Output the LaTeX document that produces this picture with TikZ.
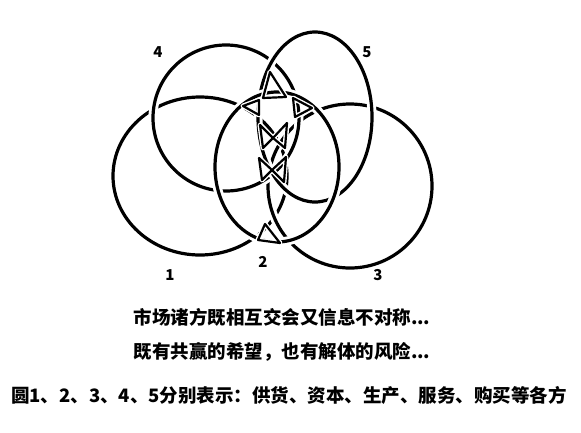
\documentclass[tikz,border=0pt]{standalone}
\usepackage{fontspec}
\newfontfamily\cjk{Noto Sans CJK SC}
\begin{document}
\begin{tikzpicture}[x=1pt,y=-1pt,
  halo/.style={white,line width=9pt},
  ring/.style={black,line width=3.2pt},
  bithalo/.style={white,line width=5pt,line join=round},
  bit/.style={black,line width=2.2pt,line join=round},
  num/.style={font=\cjk\bfseries\fontsize{15}{16}\selectfont},
  cap1/.style={font=\cjk\bfseries\fontsize{18.5}{20}\selectfont}]
\useasboundingbox (0,0) rectangle (581,432);
% ellipse centres
\coordinate (c1) at (200,176);
\coordinate (c3) at (350,186);
\coordinate (c4) at (226,118);
\coordinate (c5) at (315,117);
\coordinate (c2) at (277,167);
% rings, knot style
\draw[halo] (c1) ellipse [x radius=87pt, y radius=79pt];
\draw[ring] (c1) ellipse [x radius=87pt, y radius=79pt];
\draw[halo] (c3) ellipse [x radius=82pt, y radius=82pt];
\draw[ring] (c3) ellipse [x radius=82pt, y radius=82pt];
\draw[halo] (c4) ellipse [x radius=73pt, y radius=73pt];
\draw[ring] (c4) ellipse [x radius=73pt, y radius=73pt];
\draw[halo] (c5) ellipse [x radius=57pt, y radius=85pt];
\draw[ring] (c5) ellipse [x radius=57pt, y radius=85pt];
\draw[halo] (c2) ellipse [x radius=62pt, y radius=75pt];
\draw[ring] (c2) ellipse [x radius=62pt, y radius=75pt];
% small inner shapes
\foreach \st in {bithalo,bit}{
  \draw[\st] (270,72) -- (263,98) -- (286,97) -- cycle;
  \draw[\st] (243,106) -- (259,100) -- (259,115) -- cycle;
  \draw[\st] (293,98) -- (312,108) -- (295,117) -- cycle;
  \draw[\st] (260,125) -- (263,148) -- (273,138) -- (285,148) -- (287,123) -- (273,138) -- cycle;
  \draw[\st] (259,158) -- (262,180) -- (272,170) -- (284,182) -- (286,157) -- (272,170) -- cycle;
  \draw[\st] (265,224) -- (258,240) -- (280,243) -- cycle;
}
% labels
\node[num] (n4) at (158,52) {4};
\node[num] (n5) at (367,52) {5};
\node[num] (n1) at (170,275) {1};
\node[num] (n2) at (263,262) {2};
\node[num] (n3) at (378,275) {3};
% captions
\node[cap1] (t1) at (282,317) {市场诸方既相互交会又信息不对称...};
\node[cap1] (t2) at (282,352) {既有共赢的希望，也有解体的风险...};
\node[cap1] (t3) at (289,395) {圆1、2、3、4、5分别表示：供货、资本、生产、服务、购买等各方};
\end{tikzpicture}
\end{document}
